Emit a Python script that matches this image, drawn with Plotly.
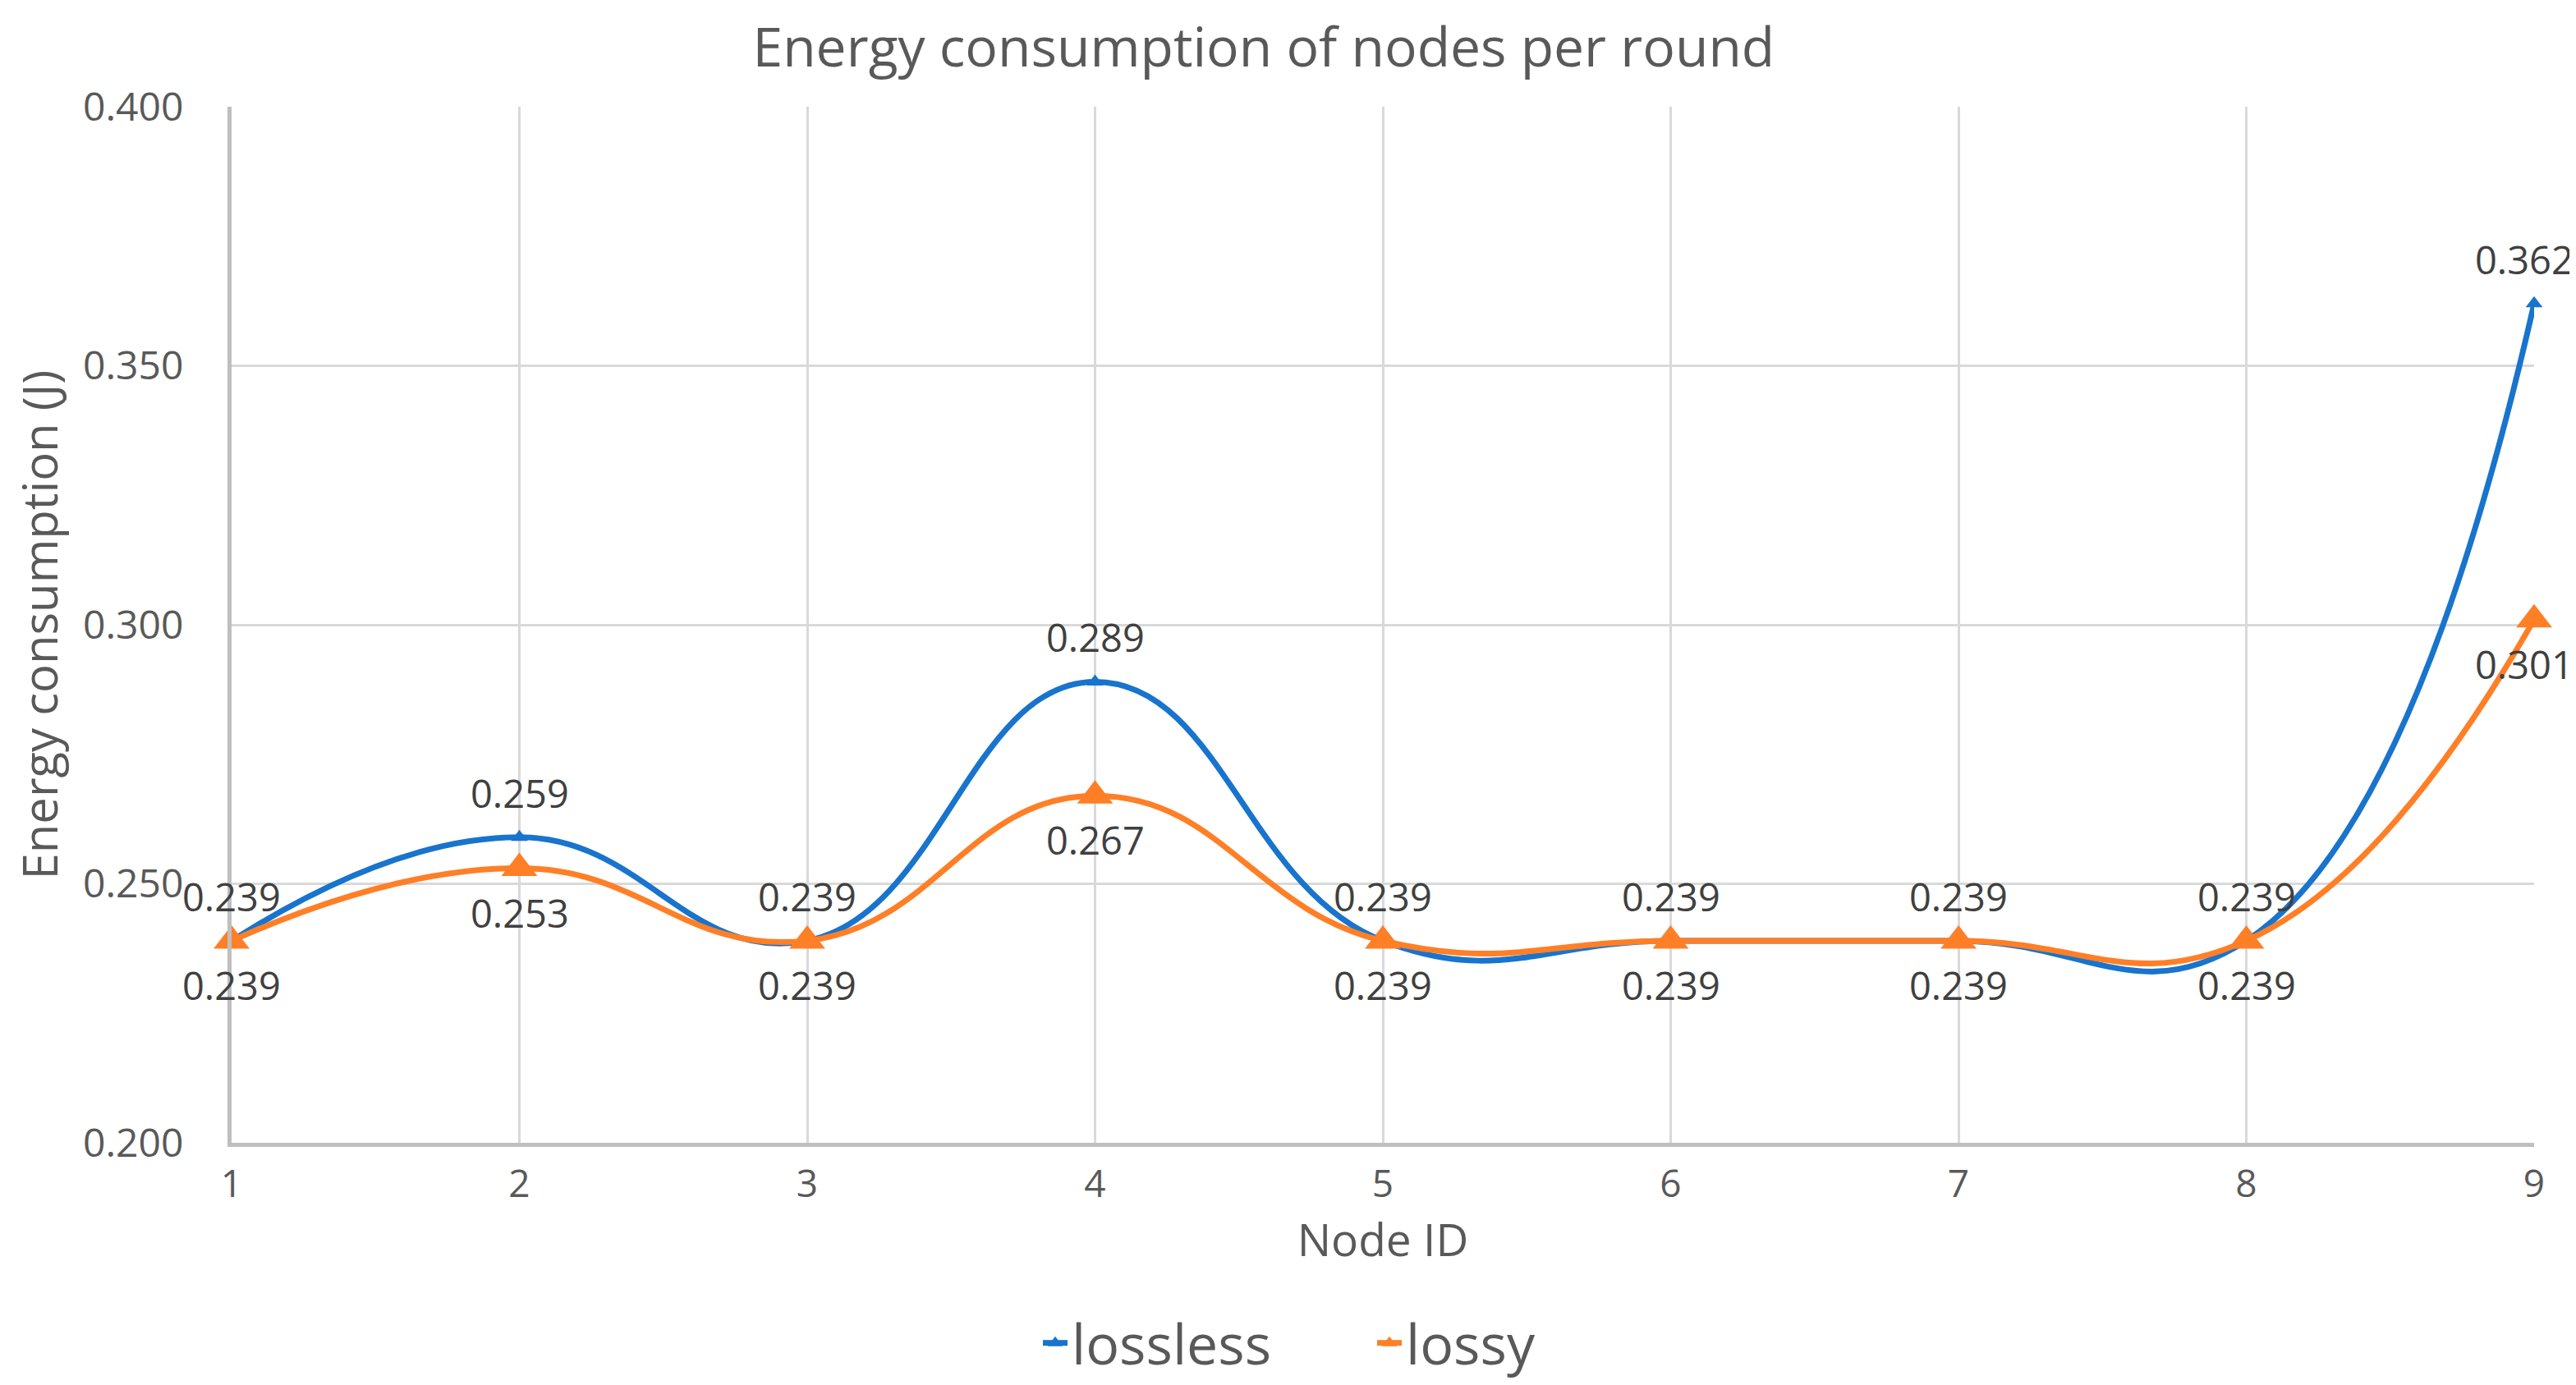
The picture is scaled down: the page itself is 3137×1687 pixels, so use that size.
import plotly.graph_objects as go

nodes = [1, 2, 3, 4, 5, 6, 7, 8, 9]
lossless = [0.239, 0.259, 0.239, 0.289, 0.239, 0.239, 0.239, 0.239, 0.362]
lossy = [0.239, 0.253, 0.239, 0.267, 0.239, 0.239, 0.239, 0.239, 0.301]
y_ticks = [0.200, 0.250, 0.300, 0.350, 0.400]

BLUE = "#1874CD"
ORANGE = "#FF7F27"
FONT = "Open Sans"
GRAY = "#595959"
LABEL = "#404040"

fig = go.Figure()
fig.add_trace(go.Scatter(
    x=nodes, y=lossless, name="lossless", mode="lines+markers",
    line=dict(color=BLUE, width=7, shape="spline", smoothing=1.3),
    marker=dict(symbol="triangle-up", size=18, color=BLUE),
    cliponaxis=False,
))
fig.add_trace(go.Scatter(
    x=nodes, y=lossy, name="lossy", mode="lines+markers",
    line=dict(color=ORANGE, width=7, shape="spline", smoothing=1.3),
    marker=dict(symbol="triangle-up", size=38, color=ORANGE),
    cliponaxis=False,
))

annotations = []
last = len(nodes) - 1
for i, (xv, v) in enumerate(zip(nodes, lossless)):
    annotations.append(dict(x=xv, y=v, text=f"{v:.3f}", showarrow=False,
                            yshift=54, xshift=-12 if i == last else 0,
                            font=dict(family=FONT, size=47, color=LABEL)))
for i, (xv, v) in enumerate(zip(nodes, lossy)):
    annotations.append(dict(x=xv, y=v, text=f"{v:.3f}", showarrow=False,
                            yshift=-54, xshift=-12 if i == last else 0,
                            font=dict(family=FONT, size=47, color=LABEL)))

fig.update_layout(
    width=3137, height=1687,
    margin=dict(l=274, r=59, t=122, b=303),
    paper_bgcolor="white", plot_bgcolor="white",
    font=dict(family=FONT, color=GRAY),
    title=dict(text="Energy consumption of nodes per round",
               x=0.488, xanchor="center", xref="container",
               y=1 - 50 / 1687, yanchor="middle", yref="container",
               font=dict(family=FONT, size=66, color=GRAY)),
    showlegend=True,
    legend=dict(orientation="h", xref="container", yref="container",
                x=1257 / 3137, xanchor="left", y=1 - 1628 / 1687, yanchor="middle",
                font=dict(family=FONT, size=68, color=GRAY),
                entrywidth=362, entrywidthmode="pixels",
                bgcolor="rgba(0,0,0,0)"),
    annotations=annotations,
)

fig.update_xaxes(
    range=[1, 9], tickvals=nodes, ticktext=[str(n) for n in nodes],
    showgrid=True, gridcolor="#d9d9d9", gridwidth=3,
    showline=True, linecolor="#bfbfbf", linewidth=5,
    zeroline=False, ticks="", ticklabelstandoff=6,
    tickfont=dict(family=FONT, size=46, color=GRAY),
    title=dict(text="Node ID", standoff=22, font=dict(family=FONT, size=55, color=GRAY)),
)
fig.update_yaxes(
    range=[0.2, 0.4], tickvals=y_ticks, tickformat=".3f",
    showgrid=True, gridcolor="#d9d9d9", gridwidth=3,
    showline=True, linecolor="#bfbfbf", linewidth=5,
    zeroline=False, ticks="", ticklabelstandoff=44,
    tickfont=dict(family=FONT, size=48, color=GRAY),
    title=dict(text="Energy consumption (J)", standoff=26,
               font=dict(family=FONT, size=58, color=GRAY)),
)

fig.write_html("out.html")
